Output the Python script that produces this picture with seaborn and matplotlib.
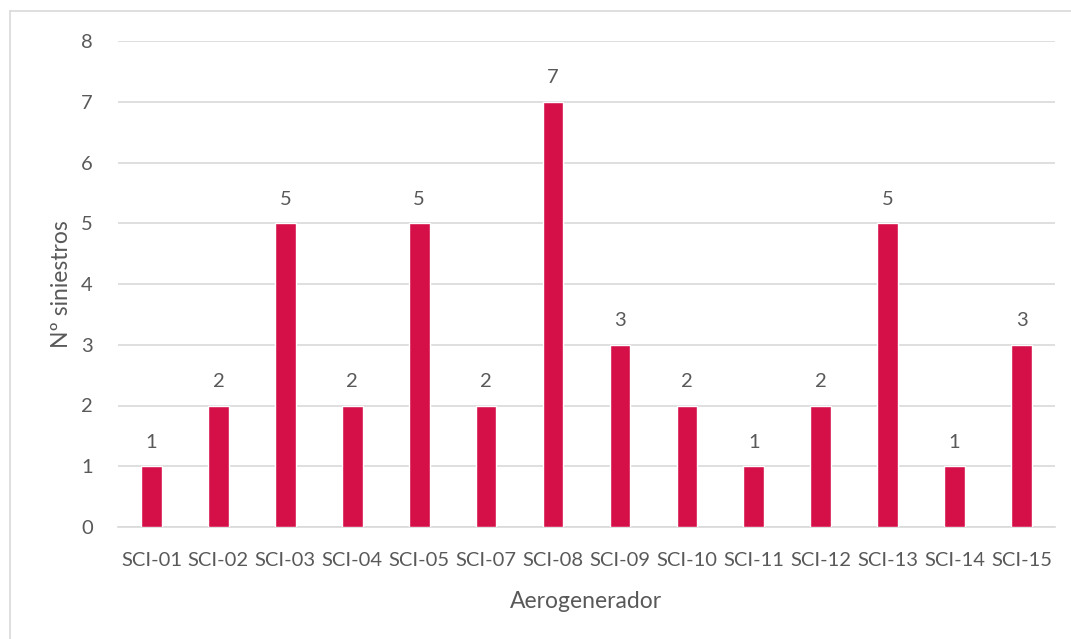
import matplotlib
matplotlib.use("Agg")
import matplotlib.pyplot as plt
import seaborn as sns
import pandas as pd
from matplotlib.lines import Line2D

categorias = ["SCI-01", "SCI-02", "SCI-03", "SCI-04", "SCI-05", "SCI-07", "SCI-08",
              "SCI-09", "SCI-10", "SCI-11", "SCI-12", "SCI-13", "SCI-14", "SCI-15"]
siniestros = [1, 2, 5, 2, 5, 2, 7, 3, 2, 1, 2, 5, 1, 3]
y_ticks = [0, 1, 2, 3, 4, 5, 6, 7, 8]

sns.set_theme(style="white")
plt.rcParams["font.family"] = ["Lato", "DejaVu Sans"]

texto = "#595959"
rejilla = "#D9D9D9"
barra = "#D50F48"

df = pd.DataFrame({"Aerogenerador": categorias, "Siniestros": siniestros})

fig = plt.figure(figsize=(10.71, 6.39), dpi=100)
ax = fig.add_axes([118 / 1071, 1 - 527 / 639, (1055 - 118) / 1071, (527 - 41) / 639])

sns.barplot(data=df, x="Aerogenerador", y="Siniestros", color=barra,
            width=0.31, saturation=1, ax=ax, zorder=3)

ax.set_ylim(0, 8)
ax.set_xlim(-0.5, len(categorias) - 0.5)
ax.set_yticks(y_ticks)
ax.yaxis.grid(True, color=rejilla, linewidth=1.2, zorder=0)
ax.set_axisbelow(True)
for s in ["top", "right", "left"]:
    ax.spines[s].set_visible(False)
ax.spines["bottom"].set_color(rejilla)
ax.spines["bottom"].set_linewidth(1.2)
ax.tick_params(axis="both", length=0, colors=texto, labelsize=14.5)
ax.tick_params(axis="x", pad=18)
ax.tick_params(axis="y", pad=18)

for i, v in enumerate(siniestros):
    ax.annotate(str(v), (i, v), xytext=(0, 11), textcoords="offset points",
                ha="center", va="bottom", color=texto, fontsize=14.5)

ax.set_xlabel("Aerogenerador", color=texto, fontsize=16.5, labelpad=16)
ax.set_ylabel("Nº siniestros", color=texto, fontsize=16.5, labelpad=7)

# chart frame (top and left edges)
fig.add_artist(Line2D([9.5 / 1071, 9.5 / 1071], [0, 1 - 11 / 639], color="#D9D9D9",
                      linewidth=1.2, transform=fig.transFigure))
fig.add_artist(Line2D([9.5 / 1071, 1], [1 - 11 / 639, 1 - 11 / 639], color="#D9D9D9",
                      linewidth=1.2, transform=fig.transFigure))

fig.savefig("out.png", dpi=100)
